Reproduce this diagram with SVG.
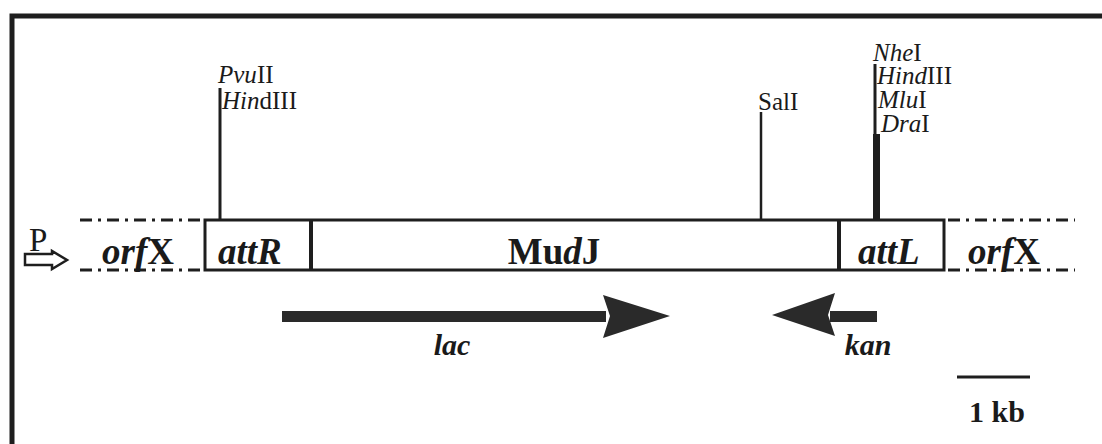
<svg xmlns="http://www.w3.org/2000/svg" width="1102" height="444" viewBox="0 0 1102 444">
  <style>
    text { font-family: "Liberation Serif", "DejaVu Serif", serif; fill: #1a1a1a; }
    .site { font-size: 25px; }
    .box { font-size: 37px; font-weight: bold; }
    .gene { font-size: 30px; font-weight: bold; font-style: italic; }
    .it { font-style: italic; }
    .ln { stroke: #1e1e1e; fill: none; }
    .dd { stroke: #1e1e1e; stroke-width: 3; stroke-dasharray: 12 6 3 6; fill: none; }
    .head { fill: #2a2a2a; }
  </style>
  <rect width="1102" height="444" fill="#ffffff"/>
  <!-- outer frame (right and bottom edges run past the page) -->
  <rect x="12" y="16" width="1110" height="460" class="ln" stroke-width="5"/>

  <!-- flanking chromosome (dash-dot) -->
  <g id="flank-left">
    <line x1="80" y1="220" x2="200" y2="220" class="dd"/>
    <line x1="80" y1="270" x2="200" y2="270" class="dd"/>
    <text class="box it" x="102" y="264">orf<tspan font-style="normal">X</tspan></text>
  </g>
  <g id="flank-right">
    <line x1="948" y1="220" x2="1075" y2="220" class="dd"/>
    <line x1="948" y1="270" x2="1075" y2="270" class="dd"/>
    <text class="box it" x="968" y="264">orf<tspan font-style="normal">X</tspan></text>
  </g>

  <!-- promoter -->
  <g id="promoter">
    <text x="29" y="251" font-size="33">P</text>
    <path d="M25,254 H52 V251 L67,260 L52,269 V265 H25 Z" fill="#ffffff" stroke="#1e1e1e" stroke-width="2.5"/>
  </g>

  <!-- insert -->
  <g id="insert">
    <rect x="205" y="220" width="739" height="50" class="ln" stroke-width="3"/>
    <line x1="311" y1="220" x2="311" y2="270" class="ln" stroke-width="4"/>
    <line x1="839" y1="220" x2="839" y2="270" class="ln" stroke-width="4"/>
  </g>
  <g id="attR"><text class="box it" x="218" y="264">attR</text></g>
  <g id="MudJ"><text class="box" x="554" y="264" text-anchor="middle">Mu<tspan font-style="italic">d</tspan>J</text></g>
  <g id="attL"><text class="box it" x="858" y="264">attL</text></g>

  <!-- restriction sites -->
  <g id="site-left">
    <line x1="220" y1="88" x2="220" y2="220" class="ln" stroke-width="3"/>
    <text class="site" x="218" y="83"><tspan class="it">Pvu</tspan>II</text>
    <text class="site" x="222" y="109"><tspan class="it">Hin</tspan>dIII</text>
  </g>
  <g id="site-SalI">
    <line x1="761" y1="112" x2="761" y2="220" class="ln" stroke-width="2.5"/>
    <text class="site" x="758" y="110">SalI</text>
  </g>
  <g id="site-right">
    <line x1="875" y1="64" x2="875" y2="220" class="ln" stroke-width="3"/>
    <line x1="876.5" y1="134" x2="876.5" y2="220" class="ln" stroke-width="7"/>
    <text class="site" x="873" y="61"><tspan class="it">Nhe</tspan>I</text>
    <text class="site" x="877" y="84"><tspan class="it">Hind</tspan>III</text>
    <text class="site" x="878" y="108"><tspan class="it">Mlu</tspan>I</text>
    <text class="site" x="881" y="132"><tspan class="it">Dra</tspan>I</text>
  </g>

  <!-- transcription arrows -->
  <g id="connectors">
    <g id="lac">
      <rect x="282" y="311" width="324" height="11" class="head"/>
      <path d="M603,295 L670,316 L603,338 L610,316 Z" class="head"/>
    </g>
    <g id="kan">
      <rect x="830" y="311" width="47" height="11" class="head"/>
      <path d="M835,293 L772,315 L835,336 L828,315 Z" class="head"/>
    </g>
  </g>
  <text class="gene" x="452" y="355" text-anchor="middle">lac</text>
  <text class="gene" x="868" y="355" text-anchor="middle">kan</text>

  <!-- scale bar -->
  <g id="scale">
    <line x1="957" y1="377" x2="1030" y2="377" class="ln" stroke-width="3"/>
    <text x="997" y="422" font-size="30" font-weight="bold" text-anchor="middle">1 kb</text>
  </g>
</svg>
